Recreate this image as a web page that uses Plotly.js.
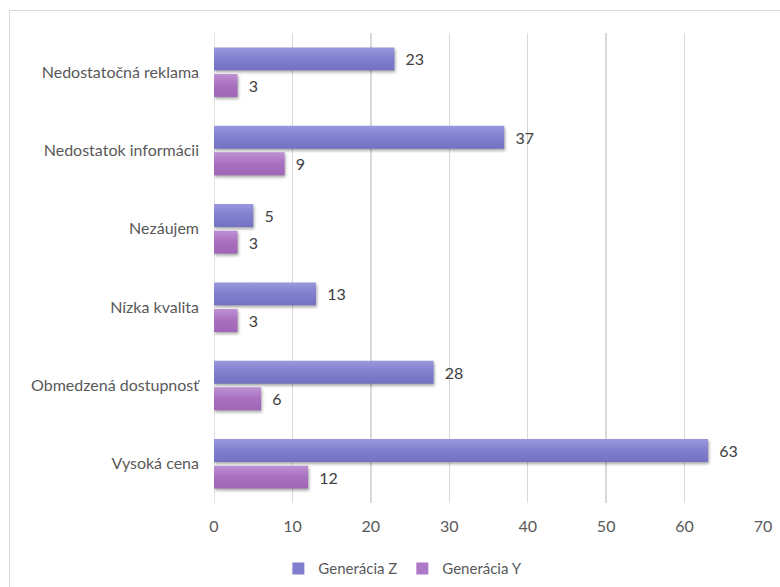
<!DOCTYPE html>
<html>
<head>
<meta charset="utf-8">
<script src="https://cdn.plot.ly/plotly-3.0.1.min.js"></script>
<style>
  html, body { margin: 0; padding: 0; background: #ffffff; }
  #wrap { position: relative; width: 780px; height: 587px; overflow: hidden; }
  #chart { position: absolute; left: 0; top: 0; width: 780px; height: 587px; }
  #frame { position: absolute; left: 9px; top: 10px; width: 800px; height: 600px;
           border: 1.5px solid #d9d9d9; pointer-events: none; }
  .barlayer .point path { filter: drop-shadow(1px 2px 1.5px rgba(0,0,0,0.35)); }
</style>
</head>
<body>
<div id="wrap">
  <div id="chart"></div>
  <div id="frame"></div>
</div>
<script>
// Reasons for not buying, by generation (bottom to top on the axis)
const categories = [
  'Vysoká cena',
  'Obmedzená dostupnosť',
  'Nízka kvalita',
  'Nezáujem',
  'Nedostatok informácii',
  'Nedostatočná reklama'
];
const genZ = [63, 28, 13, 5, 37, 23];
const genY = [12, 6, 3, 3, 9, 3];
const seriesNames = ['Generácia Z', 'Generácia Y'];
const xTicks = [0, 10, 20, 30, 40, 50, 60, 70];

const family = 'Lato, "Open Sans", sans-serif';
const font = { family: family, size: 16, color: '#595959' };
const valueFont = { family: family, size: 16, color: '#404040' };

// Y is listed first so that Z sits above it inside each horizontal group
const traces = [
  {
    type: 'bar', orientation: 'h', name: seriesNames[1],
    y: categories, x: genY,
    marker: { color: '#ae79c6' },
    text: genY, texttemplate: '\u00a0\u00a0%{x}', textposition: 'outside',
    textfont: valueFont, cliponaxis: false, hoverinfo: 'skip'
  },
  {
    type: 'bar', orientation: 'h', name: seriesNames[0],
    y: categories, x: genZ,
    marker: { color: '#7f7dcc' },
    text: genZ, texttemplate: '\u00a0\u00a0%{x}', textposition: 'outside',
    textfont: valueFont, cliponaxis: false, hoverinfo: 'skip'
  }
];

const layout = {
  width: 780, height: 587,
  margin: { l: 214, r: 17, t: 33, b: 84, autoexpand: false },
  paper_bgcolor: 'rgba(0,0,0,0)',
  plot_bgcolor: 'rgba(0,0,0,0)',
  font: font,
  barmode: 'group',
  bargap: 0.32,
  bargroupgap: 0.14,
  uniformtext: { mode: false },
  showlegend: true,
  legend: {
    orientation: 'h', traceorder: 'reversed',
    x: 0.344, xanchor: 'center', y: -0.105, yanchor: 'top',
    font: { family: family, size: 15, color: '#595959' },
    itemwidth: 30
  },
  xaxis: {
    range: [0, 70], tickvals: xTicks, ticktext: xTicks.map(String),
    showgrid: true, gridcolor: '#d9d9d9', gridwidth: 1.5,
    zeroline: false, showline: false, ticks: '',
    ticklabelstandoff: 12,
    tickfont: font, fixedrange: true
  },
  yaxis: {
    type: 'category', categoryorder: 'array', categoryarray: categories,
    showgrid: false, zeroline: false,
    showline: false, ticks: '', ticklabelstandoff: 14,
    tickfont: font, fixedrange: true
  },
  shapes: [{
    type: 'line', xref: 'x', yref: 'paper', x0: 0, x1: 0, y0: 0, y1: 1,
    line: { color: '#d9d9d9', width: 1.5 }, layer: 'below'
  }]
};

Plotly.newPlot('chart', traces, layout, { staticPlot: true, displayModeBar: false }).then(function (gd) {
  // vertical shading on the bar fills
  const svg = gd.querySelector('.main-svg');
  const ns = 'http://www.w3.org/2000/svg';
  let defs = svg.querySelector('defs');
  if (!defs) { defs = document.createElementNS(ns, 'defs'); svg.insertBefore(defs, svg.firstChild); }
  const grads = {
    gradY: ['#be92d4', '#a86fbf', '#a065b6'],
    gradZ: ['#9a98de', '#807ecd', '#7371c2']
  };
  Object.keys(grads).forEach(function (id) {
    const g = document.createElementNS(ns, 'linearGradient');
    g.setAttribute('id', id);
    g.setAttribute('x1', '0'); g.setAttribute('y1', '0');
    g.setAttribute('x2', '0'); g.setAttribute('y2', '1');
    grads[id].forEach(function (c, i) {
      const s = document.createElementNS(ns, 'stop');
      s.setAttribute('offset', String(i / (grads[id].length - 1)));
      s.setAttribute('stop-color', c);
      g.appendChild(s);
    });
    defs.appendChild(g);
  });
  const barTraces = gd.querySelectorAll('.barlayer .trace');
  const ids = ['gradY', 'gradZ'];
  barTraces.forEach(function (tr, i) {
    tr.querySelectorAll('.point path').forEach(function (p) {
      p.style.fill = 'url(#' + ids[i] + ')';
    });
  });
});
</script>
</body>
</html>
